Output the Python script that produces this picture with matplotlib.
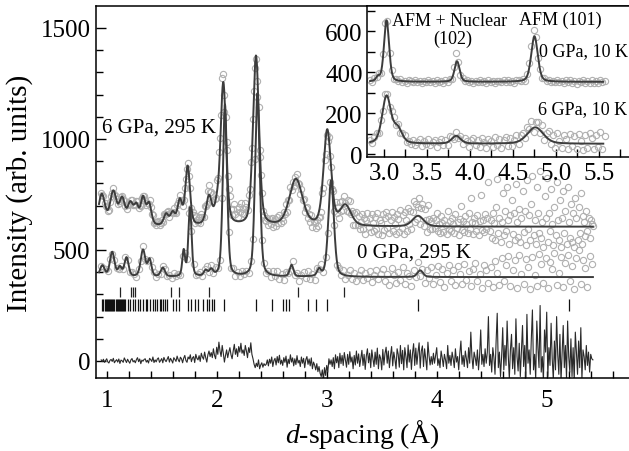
import numpy as np
import matplotlib
matplotlib.use("Agg")
import matplotlib.pyplot as plt
from matplotlib.ticker import MultipleLocator, FormatStrFormatter

plt.rcParams['font.family'] = ['Liberation Serif', 'DejaVu Serif']
plt.rcParams['mathtext.fontset'] = 'custom'
plt.rcParams['mathtext.it'] = 'Liberation Serif:italic'
plt.rcParams['mathtext.rm'] = 'Liberation Serif'

# ---------------- data ----------------
# main panel, 6 GPa 295 K: background and peaks (centre d, height, fwhm)
bg_6g = 605
pk_6g_d = [0.955, 1.06, 1.14, 1.215, 1.27, 1.33, 1.385, 1.54, 1.60, 1.665, 1.736, 1.93, 2.00, 2.06, 2.357, 2.72, 3.005, 3.17, 3.83]
pk_6g_h = [140, 150, 115, 95, 80, 120, 95, 50, 55, 110, 265, 125, 65, 640, 765, 210, 430, 90, 48]
pk_6g_w = [0.07, 0.07, 0.06, 0.06, 0.05, 0.05, 0.05, 0.05, 0.05, 0.05, 0.05, 0.06, 0.05, 0.06, 0.065, 0.14, 0.08, 0.12, 0.12]

# main panel, 0 GPa 295 K
bg_0g = 378
pk_0g_d = [0.96, 1.05, 1.12, 1.18, 1.33, 1.39, 1.51, 1.70, 1.757, 1.90, 1.95, 2.075, 2.37, 2.68, 2.93, 3.04, 3.85]
pk_0g_h = [50, 110, 40, 85, 120, 75, 40, 115, 310, 25, 28, 775, 825, 52, 30, 435, 30]
pk_0g_w = [0.05, 0.05, 0.04, 0.045, 0.05, 0.04, 0.045, 0.03, 0.035, 0.04, 0.04, 0.045, 0.05, 0.04, 0.04, 0.06, 0.06]

# residuals (obs - calc) of the 6 GPa pattern, d = 0.95 ... 5.42 step 0.01 (= difference curve)
res_6g = [5, -3, 8, -6, 2, 10, -4, -9, 3, 7, -2, 12, -8, 0, 6, -5, 9, -11, 4, 1,
          -6, 14, 3, -7, 8, -2, -10, 5, 11, -4, 2, -8, 6, 15, -3, 9, -12, 4, -1, 7,
          10, -5, 3, -9, 12, 6, -2, 18, -7, 5, -4, 9, 14, -6, 2, 11, -8, 16, 4, -3,
          8, 20, -5, 12, 3, -9, 15, 7, -2, 22, 6, -4, 17, 10, -8, 13, 25, 2, -6, 18,
          9, 28, -3, 14, 20, -7, 30, 12, 5, 24, -2, 35, 18, 8, 40, 15, -5, 28, 45, 20,
          38, 15, 55, 25, 10, 62, 30, 85, 45, 20, 70, 35, -5, 25, 50, 15, 40, 60, 28, 10,
          45, 75, 30, 55, 20, 65, 40, 80, 35, 50, 25, 70, 45, 15, 60, 38, 82, 30, 10, -15,
          -30, -10, -25, 5, -35, -18, -8, -28, -12, -20,
          -15, 5, -22, 8, -10, 18, -25, 2, 12, -18, 20, -8, 26, -14, 4, -20, 15, -6, 22, -28,
          8, -12, 28, -5, 14, -22, 10, -16, 24, -9, 3, -25, 18, -10, 12, -30, 6, 20, -15, 9,
          -22, 14, -35, -5, -18, -40, -12, -48, -25, -55,
          -70, -40, -85, -30, -65, -20, -50, 10, -15, 5,
          -25, 15, -35, 28, -8, 20, -30, 35, -12, 25, -20, 38, 5, -28, 30, -15, 42, -5, 18, -35,
          25, -18, 45, -10, 32, -25, 12, 48, -20, 30, -38, 22, 55, -8, 35, -30, 50, 10, -25, 40,
          -15, 58, -35, 28, 12, -40, 52, -18, 35, 62, -10, 45, -30, 25, 65, -22, 40, 8, -35, 55,
          30, -28, 70, -12, 48, -40, 60, 20, -30, 72, -5, 50, -38, 35, 78, -20, 58, -15, 40, 82,
          -32, 45, 68, -25, 55, 10, -40, 85, 25, -18,
          20, -15, 35, -10, 25, 60, -20, 10, -30, 45, 15, -25, 30, 5, -35, 70, -10, 25, -20, 40,
          10, -30, 55, -5, 20, -40, 35, 90, -15, 25, -25, 45, 10, -30, 60, -10, 130, 20, -35, 40,
          15, -20, 50, -40, 25, 140, -15, 30, -25, 55,
          -10, 40, 200, -20, 30, -50, 60, 15, -60, 90, 215, -30, 40, -70, 20, 150, -40, 70, -20, 180,
          30, -80, 50, 120, -35, 60, -60, 190, 20, -45, 80, -70, 40, 160, -25, 70, -85, 210, -10, 50,
          -60, 100, 230, -40, 30, -80, 180, 60, -30, 250, -50, 20, -90, 140, 40, 220, -70, 60, -20, 170,
          10, -85, 90, -40, 200, 30, -60, 120, -90, 40, 160, -30, 70, -80, 180, 20, -50, 100, -70, 60,
          -90, 130, 40, -60, 90, -30, 150, -80, 50, 20, -40, 70, -20, 40, -50, 30, 10, 5]

# residuals of the 0 GPa pattern, d = 0.95 ... 5.41 step 0.02
res_0g = [4, -6, 8, -3, 10, -8, 2, 6, -10, 5, -4, 12, -2, -7, 9, 3, -11, 6, -5, 14,
          -3, 8, -9, 4, 11, -6, 2, -12, 7, 10, -4, 5, -8, 13, -2, 6, -9, 3, 11, -5,
          8, -3, 15, -7, 4, 12, -10, 6, 18, -4,
          15, -10, 20, 5, -12, 18, -6, 10, 25, -8, 12, -15, 6, -10, 14, -5, 8, -12, 16, -3,
          9, -14, 20, -6, 11, -9, 7,
          -12, 18, -5, 22, -15, 8, -20, 15, 3, -18, 25, -8, 12, -22, 6, 19, -10, 24, -14, 5,
          -25, 16, -6, 28, -12, 9, -20, 30, -4, 15, -26, 11, -9, 20, -16, 4, 26, -11, 14, -20,
          8, 30, -15, 18, -6, 24, -22, 10, 32, -8, 14,
          35, -20, 12, -35, 40, 8, -28, 22, -15, 45, -32, 18, 5, -40, 30, -10, 48, -25, 15, -38,
          28, -5, 42, -30, 10, 50, -22, 36, -45, 20, 55, -18, 30, -35, 48, 12, -30, 60, -12, 25,
          -42, 38, 65, -20, 15, -48, 52, 30, -25, 45,
          -45, 70, 20, -35, 85, -20, 55, 95, -40, 30, 75, -50, 100, 15, -30, 80, 45, -55, 90, 10,
          -40, 105, 60, -25, 85, -50, 70, 35, 110, -35, 20, 90, -45, 65, 100, -20, 50, -55, 85, 120,
          -30, 75, 40, -45, 95, 60]

# reflection markers
refl_row1 = [1.12, 1.218, 1.236, 1.257, 1.58, 1.66, 1.933, 2.742, 3.157]
refl_row2 = [0.96, 0.97, 0.98, 0.99, 1.00, 1.01, 1.02, 1.03, 1.04, 1.05, 1.06, 1.07, 1.08, 1.09, 1.10, 1.11,
             1.12, 1.13, 1.14, 1.15, 1.16, 1.17, 1.19, 1.21, 1.235, 1.26, 1.28, 1.305, 1.33, 1.355, 1.37,
             1.395, 1.42, 1.44, 1.46, 1.48, 1.49, 1.51, 1.53, 1.545, 1.60, 1.627, 1.66, 1.736, 1.764, 1.803,
             1.833, 1.879, 1.909, 1.933, 1.955, 1.975, 2.066, 2.357, 2.50, 2.60, 2.63, 2.66, 2.833, 2.903,
             3.006, 3.833, 5.206]

# inset: 0 GPa 10 K and 6 GPa 10 K
bg_i0 = 352
pk_i0_d = [2.93, 3.03, 3.85, 4.75]
pk_i0_h = [20, 300, 100, 222]
pk_i0_w = [0.05, 0.07, 0.07, 0.09]
bg_i6 = 50
pk_i6_d = [3.03, 3.16, 3.84, 4.76]
pk_i6_h = [230, 70, 38, 80]
pk_i6_w = [0.12, 0.12, 0.12, 0.22]

# inset residuals, d = 2.84 ... 5.565 step 0.025
res_i0 = [3, -5, 6, -2, 8, -4, 10, 25, 15, -8, 5, -6, 4, -3, 7, -5, 2, -7, 5, 3,
          -4, 6, -2, 5, -6, 3, -3, 7, -4, 2, -5, 6, -3, 4, -6, 5, -2, 8, -4, 20,
          45, 10, -6, 4, -3, 6, -5, 3, -7, 5, -2, 6, -4, 3, -5, 7, -3, 4, -6, 2,
          5, -4, 8, -3, 6, -5, 3, -7, 4, 6, -2, 5, -8, 10, 20, 30, 40, 15, -10, 5,
          -6, 8, -4, 6, -7, 3, -5, 9, -3, 5, -8, 6, -2, 7, -5, 4, -9, 6, -3, 8,
          -6, 5, -4, 9, -7, 3, -5, 7, -3, 6]
res_i6 = [10, -8, 15, 20, -5, 12, -10, 18, 8, -12, 15, 20, -6, 10, -15, 8, 12, -10, 5, -8,
          14, -12, 6, 18, -15, 10, -5, 20, -10, 8, 15, -18, 5, 22, -8, 12, -15, 25, 10, -12,
          20, -6, 15, -18, 22, 8, -20, 14, 25, -10, 18, -15, 28, 5, -20, 24, 12, -18, 30, -8,
          20, -22, 15, 32, -12, 25, -18, 10, 35, -15, 22, 28, -10, 35, 15, 40, -20, 25, 30, -15,
          38, -25, 20, 42, -18, 30, -28, 45, 10, -22, 38, 20, -30, 45, -15, 35, -25, 48, 12, -30,
          40, -20, 50, 25, -28, 42, -15, 55, -25, 35]


def profile(x, bg, cs, hs, ws, eta=0.35):
    y = np.full_like(x, float(bg))
    for c, h, w in zip(cs, hs, ws):
        t = (x - c) / w
        y += h * ((1 - eta) * np.exp(-4 * np.log(2) * t ** 2) + eta / (1 + 4 * t ** 2))
    return y


# ---------------- figure ----------------
W, H = 629, 452
fig = plt.figure(figsize=(W / 100, H / 100), dpi=100)
ax = fig.add_axes([96 / W, 1 - 379 / H, 1 - 96 / W, (379 - 7) / H])

line_c = '#3c3c3c'
circ_c = '#b0b0b0'

xf = np.linspace(0.93, 5.42, 2000)
d6 = 0.95 + 0.01 * np.arange(len(res_6g))
d0 = 0.95 + 0.02 * np.arange(len(res_0g))

obs6 = profile(d6, bg_6g, pk_6g_d, pk_6g_h, pk_6g_w) + np.array(res_6g)
obs0 = profile(d0, bg_0g, pk_0g_d, pk_0g_h, pk_0g_w) + np.array(res_0g)

ax.plot(d6, obs6, 'o', ms=4.5, mfc='none', mec=circ_c, mew=0.8)
ax.plot(d0, obs0, 'o', ms=4.5, mfc='none', mec=circ_c, mew=0.8)
ax.plot(xf, profile(xf, bg_6g, pk_6g_d, pk_6g_h, pk_6g_w), color=line_c, lw=1.4)
ax.plot(xf, profile(xf, bg_0g, pk_0g_d, pk_0g_h, pk_0g_w), color=line_c, lw=1.4)
ax.plot(d6, res_6g, color='#2a2a2a', lw=0.8)

ax.vlines(refl_row1, 288, 333, color='#222222', lw=0.9)
ax.vlines(refl_row2, 225, 279, color='#111111', lw=0.9)

ax.set_xlim(0.9027, 5.748)
ax.set_ylim(-76.6, 1599)
ax.xaxis.set_major_locator(MultipleLocator(1))
ax.xaxis.set_minor_locator(MultipleLocator(0.2))
ax.yaxis.set_major_locator(MultipleLocator(500))
ax.yaxis.set_minor_locator(MultipleLocator(100))
ax.tick_params(which='both', direction='in', top=False, right=False, labelsize=18, width=1.0)
ax.tick_params(which='major', axis='y', length=7)
ax.tick_params(which='minor', axis='y', length=5)
ax.tick_params(which='both', axis='x', length=5)
ax.tick_params(axis='x', pad=8)
ax.tick_params(axis='y', pad=4)
ax.spines['right'].set_visible(False)
for s in ax.spines.values():
    s.set_linewidth(1.1)
ax.set_xlabel('$d$-spacing (Å)', fontsize=20, labelpad=4)
ax.set_ylabel('Intensity (arb. units)', fontsize=21, labelpad=5)

fig.text(101.7 / W, 1 - 128 / H, '6 GPa, 295 K', fontsize=15, va='center', ha='left')
fig.text(356.7 / W, 1 - 253 / H, '0 GPa, 295 K', fontsize=15, va='center', ha='left')

# ---------------- inset ----------------
ai = fig.add_axes([367 / W, 1 - 157.7 / H, 1 - 367 / W, (157.7 - 7) / H])
ai.set_facecolor('white')
xi = np.linspace(2.84, 5.55, 1000)
di = 2.84 + 0.025 * np.arange(len(res_i0))
oi0 = profile(di, bg_i0, pk_i0_d, pk_i0_h, pk_i0_w) + np.array(res_i0)
oi6 = profile(di, bg_i6, pk_i6_d, pk_i6_h, pk_i6_w) + np.array(res_i6)
ai.plot(di, oi0, 'o', ms=4.5, mfc='none', mec=circ_c, mew=0.8)
ai.plot(di, oi6, 'o', ms=4.5, mfc='none', mec=circ_c, mew=0.8)
ai.plot(xi, profile(xi, bg_i0, pk_i0_d, pk_i0_h, pk_i0_w), color=line_c, lw=1.4)
ai.plot(xi, profile(xi, bg_i6, pk_i6_d, pk_i6_h, pk_i6_w), color=line_c, lw=1.4)
ai.set_xlim(2.803, 5.849)
ai.set_ylim(-13, 722)
ai.xaxis.set_major_locator(MultipleLocator(0.5))
ai.xaxis.set_minor_locator(MultipleLocator(0.25))
ai.xaxis.set_major_formatter(FormatStrFormatter('%.1f'))
ai.yaxis.set_major_locator(MultipleLocator(200))
ai.yaxis.set_minor_locator(MultipleLocator(100))
ai.tick_params(which='both', direction='in', top=False, right=False, labelsize=18, width=1.0, length=6)
ai.tick_params(axis='x', pad=4)
ai.tick_params(axis='y', pad=3)
ai.spines['right'].set_visible(False)
for s in ai.spines.values():
    s.set_linewidth(1.1)

fig.text(449.7 / W, 1 - 22 / H, 'AFM + Nuclear', fontsize=13, ha='center', va='center')
fig.text(453 / W, 1 - 39 / H, '(102)', fontsize=13, ha='center', va='center')
fig.text(560.7 / W, 1 - 20 / H, 'AFM (101)', fontsize=13, ha='center', va='center')
fig.text(539.3 / W, 1 - 52 / H, '0 GPa, 10 K', fontsize=13, ha='left', va='center')
fig.text(538.3 / W, 1 - 110 / H, '6 GPa, 10 K', fontsize=13, ha='left', va='center')

fig.savefig('out.png', dpi=100)
